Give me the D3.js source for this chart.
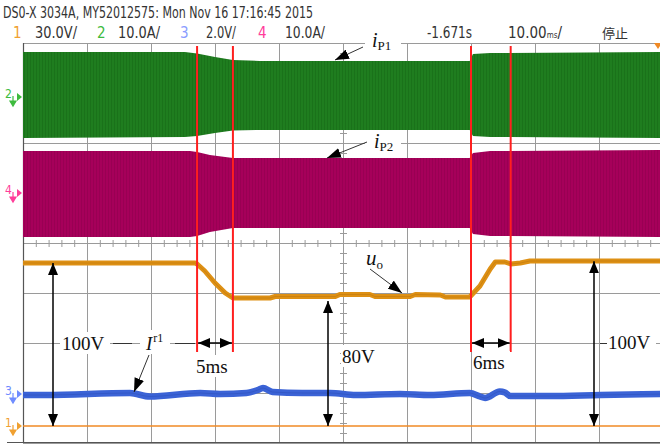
<!DOCTYPE html>
<html><head><meta charset="utf-8">
<script src="https://cdn.jsdelivr.net/npm/d3@7"></script>
<style>body{margin:0;background:#fff}svg{display:block}</style>
</head><body>
<script>
// scope settings, 10 ms/div, time in ms from left edge of screen
var headerLine = "DS0-X 3034A, MY52012575: Mon Nov 16 17:16:45 2015";
var chanNums   = ["1", "2", "3", "4"];
var chanScales = ["30.0V/", "10.0A/", "2.0V/", "10.0A/"];
var cursorsT   = [27.2, 32.8, 70.0, 76.2];

// ch2 (iP1) envelope, A
var ch2T  = [0, 25.3, 27.2, 30, 32.8, 37, 69.8, 70.3, 73, 100];
var ch2Hi = [9.0, 9.0, 8.7, 8.0, 7.4, 7.2, 7.2, 8.6, 8.8, 9.0];
var ch2Lo = [-8.2, -8.0, -7.8, -7.2, -6.7, -6.6, -6.6, -7.8, -8.0, -8.2];

// ch4 (iP2) envelope, A
var ch4T  = [0, 26.1, 27.2, 29.2, 32.8, 69.8, 70.3, 73, 100];
var ch4Hi = [8.4, 8.4, 8.2, 7.6, 7.0, 7.0, 8.0, 8.4, 8.6];
var ch4Lo = [-8.8, -8.8, -8.6, -7.8, -7.0, -7.0, -8.2, -8.6, -8.8];

// ch1 (uo), V
var ch1T = [0, 26.9, 27.2, 28.4, 30, 31.6, 32.8, 38.6, 39.4, 48.8, 49.5, 54.2, 55, 60.5, 61.3, 65.2, 66, 69.8, 71.4, 73, 73.8, 75.3, 76.2, 77.7, 79.2, 100];
var ch1V = [97.8, 97.8, 97.2, 93.0, 85.8, 79.8, 76.8, 76.8, 77.7, 77.7, 78.9, 78.9, 77.7, 77.7, 78.9, 78.6, 77.4, 77.4, 84.0, 94.2, 98.4, 98.4, 97.2, 97.8, 99.0, 99.0];

// ch3 (ir1), V
var ch3T = [0, 3.6, 16.7, 19.8, 27.7, 30.8, 34.9, 36.7, 37.5, 39, 43.6, 48, 52, 58.9, 63.6, 69.8, 71.4, 72.2, 74.5, 75.3, 76.1, 77.8, 82.3, 90.2, 100];
var ch3V = [-0.04, -0.04, 0.04, -0.1, 0.04, 0.0, 0.04, 0.16, 0.24, 0.08, 0.04, 0.04, -0.04, 0.0, -0.04, 0.04, -0.1, -0.16, 0.1, 0.06, -0.08, -0.08, -0.08, -0.04, 0.0];

var W = 660, H = 445;
var svg = d3.select("body").append("svg").attr("width", W).attr("height", H)
  .style("font-family", "'Liberation Sans Narrow','Arial Narrow','DejaVu Sans Condensed',sans-serif");

var defs = svg.append("defs");
defs.append("marker").attr("id", "ah").attr("viewBox", "0 0 12 10")
  .attr("refX", 12).attr("refY", 5).attr("markerWidth", 12).attr("markerHeight", 10)
  .attr("markerUnits", "userSpaceOnUse").attr("orient", "auto-start-reverse")
  .append("path").attr("d", "M0,0L12,5L0,10Z").attr("fill", "#000");
defs.append("marker").attr("id", "ah2").attr("viewBox", "0 0 14 10")
  .attr("refX", 14).attr("refY", 5).attr("markerWidth", 14).attr("markerHeight", 10)
  .attr("markerUnits", "userSpaceOnUse").attr("orient", "auto")
  .append("path").attr("d", "M0,0L14,5L0,10Z").attr("fill", "#000");

var pg = defs.append("pattern").attr("id", "gstripe").attr("width", 3).attr("height", 10).attr("patternUnits", "userSpaceOnUse");
pg.append("rect").attr("width", 3).attr("height", 10).attr("fill", "#1f7d1f");
pg.append("rect").attr("width", 1).attr("height", 10).attr("fill", "#1a721a");
var pm = defs.append("pattern").attr("id", "mstripe").attr("width", 3).attr("height", 10).attr("patternUnits", "userSpaceOnUse");
pm.append("rect").attr("width", 3).attr("height", 10).attr("fill", "#a6005a");
pm.append("rect").attr("width", 1).attr("height", 10).attr("fill", "#990053");

var x = d3.scaleLinear().domain([0, 100]).range([23, 663]);
var gy = d3.scaleLinear().domain([0, 8]).range([43, 443]);
function chScale(center, perDiv){
  return d3.scaleLinear().domain([-4 * perDiv, 4 * perDiv]).range([center + 200, center - 200]);
}
var y1 = chScale(426, 30), y2 = chScale(97, 10), y3 = chScale(394, 2), y4 = chScale(193, 10);

// header
svg.append("text").attr("x", 3).attr("y", 18).attr("font-size", 15).attr("fill", "#333")
  .attr("textLength", 310).attr("lengthAdjust", "spacingAndGlyphs").text(headerLine);
var chColors = ["#f0a030", "#3dbb3d", "#8a9cff", "#ff3d9a"];
var numX = [13, 97, 180, 258], scaleX = [35, 118, 206, 285], scaleW = [42, 42, 30, 40];
chanNums.forEach(function(n, i){
  svg.append("text").attr("x", numX[i]).attr("y", 38).attr("font-size", 15)
    .attr("fill", chColors[i]).text(n);
  svg.append("text").attr("x", scaleX[i]).attr("y", 38).attr("font-size", 15)
    .attr("textLength", scaleW[i]).attr("lengthAdjust", "spacingAndGlyphs")
    .attr("fill", "#333").text(chanScales[i]);
});
svg.append("text").attr("x", 427).attr("y", 38).attr("font-size", 15).attr("fill", "#333")
  .attr("textLength", 45).attr("lengthAdjust", "spacingAndGlyphs").text("-1.671s");
var tb = svg.append("text").attr("x", 508).attr("y", 38).attr("font-size", 15).attr("fill", "#333");
tb.append("tspan").text("10.00");
tb.append("tspan").attr("font-size", 8).text("ms");
tb.append("tspan").text("/");
svg.append("text").attr("x", 602).attr("y", 38).attr("font-size", 13)
  .attr("font-family", "'Noto Sans CJK SC',sans-serif").attr("fill", "#333").text("停止");

// grid
var grid = svg.append("g").attr("stroke", "#9a9a9a").attr("stroke-width", 1);
grid.selectAll("line.v").data(d3.range(0, 101, 10)).enter().append("line")
  .attr("x1", function(d){return x(d) + 0.5}).attr("x2", function(d){return x(d) + 0.5})
  .attr("y1", gy(0)).attr("y2", gy(8));
grid.selectAll("line.h").data(d3.range(0, 9)).enter().append("line")
  .attr("x1", x(0)).attr("x2", W).attr("y1", function(d){return gy(d) + 0.5}).attr("y2", function(d){return gy(d) + 0.5});
grid.selectAll("line.tx").data(d3.range(0, 100.1, 2)).enter().append("line")
  .attr("x1", function(d){return x(d) + 0.5}).attr("x2", function(d){return x(d) + 0.5})
  .attr("y1", gy(4) - 3).attr("y2", gy(4) + 4);
grid.selectAll("line.ty").data(d3.range(0, 8.01, 0.2)).enter().append("line")
  .attr("y1", function(d){return gy(d) + 0.5}).attr("y2", function(d){return gy(d) + 0.5})
  .attr("x1", x(50) - 3).attr("x2", x(50) + 4);
svg.append("line").attr("x1", x(0) + 0.5).attr("x2", x(0) + 0.5).attr("y1", gy(0)).attr("y2", gy(8))
  .attr("stroke", "#555").attr("stroke-width", 1.2);
svg.append("line").attr("x1", 7).attr("x2", W).attr("y1", gy(8) - 0.5).attr("y2", gy(8) - 0.5)
  .attr("stroke", "#555").attr("stroke-width", 1.2);

// current envelopes
function band(T, hi, lo, ys){
  return d3.area().x(function(d, i){return x(T[i])})
    .y0(function(d, i){return ys(lo[i])}).y1(function(d, i){return ys(hi[i])})(T);
}
svg.append("path").attr("d", band(ch2T, ch2Hi, ch2Lo, y2)).attr("fill", "url(#gstripe)");
svg.append("path").attr("d", band(ch4T, ch4Hi, ch4Lo, y4)).attr("fill", "url(#mstripe)");

// ch1 ground line
svg.append("line").attr("x1", x(0)).attr("x2", W).attr("y1", y1(0)).attr("y2", y1(0))
  .attr("stroke", "#f08a25").attr("stroke-width", 1.6);

// ch3 trace
var l3 = d3.line().x(function(d, i){return x(ch3T[i])}).y(function(d){return y3(d)}).curve(d3.curveMonotoneX);
svg.append("path").attr("d", l3(ch3V)).attr("fill", "none").attr("stroke", "#3b63d6").attr("stroke-width", 6.5);
svg.append("path").attr("d", l3(ch3V)).attr("fill", "none").attr("stroke", "#2f52bd").attr("stroke-width", 1).attr("opacity", 0.6);

// ch1 trace
var l1 = d3.line().x(function(d, i){return x(ch1T[i])}).y(function(d){return y1(d)});
svg.append("path").attr("d", l1(ch1V)).attr("fill", "none").attr("stroke", "#de9014").attr("stroke-width", 5).attr("stroke-linejoin", "round");
svg.append("path").attr("d", l1(ch1V)).attr("fill", "none").attr("stroke", "#b8740c").attr("stroke-width", 1).attr("opacity", 0.5);

// channel markers at left
var mk = [{n: "2", y: y2(0), c: "#3dbb3d"}, {n: "4", y: y4(0), c: "#ff3d9a"}, {n: "3", y: y3(0), c: "#6f8cff"}, {n: "1", y: y1(0), c: "#f0a030"}];
mk.forEach(function(m){
  var g = svg.append("g");
  g.append("text").attr("x", 5).attr("y", m.y + 1).attr("font-size", 12).attr("fill", m.c).text(m.n);
  g.append("path").attr("d", "M17," + (m.y - 4) + "L22," + m.y + "L17," + (m.y + 4) + "Z").attr("fill", m.c);
  g.append("path").attr("d", "M13," + (m.y - 1) + "L13," + (m.y + 4) + "M10," + (m.y + 4) + "L16," + (m.y + 4) + "L13," + (m.y + 9) + "Z")
    .attr("stroke", m.c).attr("fill", m.c).attr("stroke-width", 1.2);
});
svg.append("path").attr("d", "M654,43L662,43L658,49Z").attr("fill", "#f08a25");

// cursors
svg.selectAll("line.cur").data(cursorsT).enter().append("line")
  .attr("x1", function(d){return x(d)}).attr("x2", function(d){return x(d)})
  .attr("y1", 46).attr("y2", 352).attr("stroke", "#ff1f1f").attr("stroke-width", 2);

// annotations
var ann = svg.append("g").style("font-family", "'Liberation Serif','Times New Roman',serif").attr("fill", "#111");
function dbl(x1, y1_, x2, y2_){
  ann.append("line").attr("x1", x1).attr("y1", y1_).attr("x2", x2).attr("y2", y2_)
    .attr("stroke", "#000").attr("stroke-width", 1.5)
    .attr("marker-start", "url(#ah)").attr("marker-end", "url(#ah)");
}
function ptr(x1, y1_, x2, y2_){
  ann.append("line").attr("x1", x1).attr("y1", y1_).attr("x2", x2).attr("y2", y2_)
    .attr("stroke", "#333").attr("stroke-width", 1).attr("marker-end", "url(#ah2)");
}
dbl(x(cursorsT[0]) + 1, 343, x(cursorsT[1]) - 1, 343);
dbl(x(cursorsT[2]) + 1, 343, x(cursorsT[3]) - 1, 343);
dbl(53, y1(97.8), 53, y1(0));
dbl(328, y1(76.8) + 3, 328, y1(0));
dbl(594, y1(98.8), 594, y1(0));

ann.append("rect").attr("x", 60).attr("y", 332).attr("width", 50).attr("height", 22).attr("fill", "#fff");
ann.append("text").attr("x", 62).attr("y", 350).attr("font-size", 19).text("100V");
ann.append("line").attr("x1", 113).attr("x2", 132).attr("y1", 343.5).attr("y2", 343.5).attr("stroke", "#333");
ann.append("rect").attr("x", 140).attr("y", 330).attr("width", 30).attr("height", 24).attr("fill", "#fff");
var ir = ann.append("text").attr("x", 146).attr("y", 350).attr("font-size", 19).attr("font-style", "italic");
ir.append("tspan").text("I");
ir.append("tspan").attr("font-size", 12).attr("font-style", "normal").attr("dx", 1).attr("dy", -8).text("r1");
ann.append("line").attr("x1", 175).attr("x2", 195).attr("y1", 343.5).attr("y2", 343.5).attr("stroke", "#333");
ptr(149, 355, 134, 392);

ann.append("rect").attr("x", 195).attr("y", 355).attr("width", 38).attr("height", 22).attr("fill", "#fff");
ann.append("text").attr("x", 196).attr("y", 373).attr("font-size", 19).text("5ms");
ann.append("rect").attr("x", 472).attr("y", 351).attr("width", 38).attr("height", 22).attr("fill", "#fff");
ann.append("text").attr("x", 473).attr("y", 369).attr("font-size", 19).text("6ms");
ann.append("rect").attr("x", 341).attr("y", 345).attr("width", 34).attr("height", 22).attr("fill", "#fff");
ann.append("text").attr("x", 342).attr("y", 363).attr("font-size", 19).text("80V");
ann.append("rect").attr("x", 606).attr("y", 332).attr("width", 50).attr("height", 22).attr("fill", "#fff");
ann.append("line").attr("x1", 600).attr("x2", 607).attr("y1", 343.5).attr("y2", 343.5).attr("stroke", "#333");
ann.append("text").attr("x", 608).attr("y", 349).attr("font-size", 19).text("100V");

var uo = ann.append("text").attr("x", 366).attr("y", 265).attr("font-size", 21).attr("font-style", "italic");
uo.append("tspan").text("u");
uo.append("tspan").attr("font-size", 13).attr("font-style", "normal").attr("dy", 4).text("o");
ptr(370, 269, 402, 293);

ann.append("rect").attr("x", 365).attr("y", 34).attr("width", 36).attr("height", 16).attr("fill", "#fff");
var p1 = ann.append("text").attr("x", 372).attr("y", 47).attr("font-size", 20).attr("font-style", "italic");
p1.append("tspan").text("i");
p1.append("tspan").attr("font-size", 13).attr("font-style", "normal").attr("dy", 3).text("P1");
ptr(363, 47, 335, 60);

ann.append("rect").attr("x", 365).attr("y", 136).attr("width", 36).attr("height", 15).attr("fill", "#fff");
var p2 = ann.append("text").attr("x", 374).attr("y", 148).attr("font-size", 20).attr("font-style", "italic");
p2.append("tspan").text("i");
p2.append("tspan").attr("font-size", 13).attr("font-style", "normal").attr("dy", 3).text("P2");
ptr(367, 142, 327, 158);
</script>
</body></html>
